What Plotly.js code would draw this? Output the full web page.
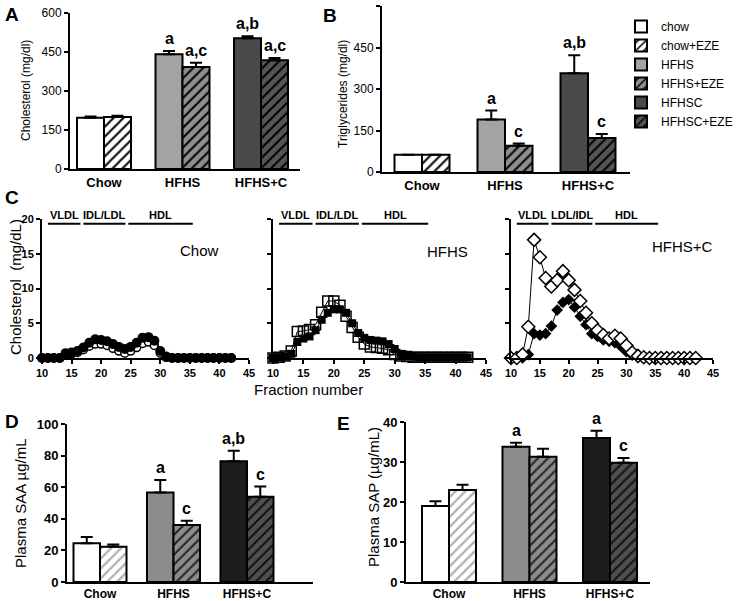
<!DOCTYPE html>
<html>
<head>
<meta charset="utf-8">
<script src="https://cdn.plot.ly/plotly-3.0.1.min.js"></script>
<style>body{margin:0;background:#fff} #myDiv{width:738px;height:601px}</style>
</head>
<body>
<div id="myDiv"></div>
<script>
var W = 738, H = 601;

// ---- bar data ----
var groups = ['Chow', 'HFHS', 'HFHS+C'];
var treatments = ['chow', 'chow+EZE', 'HFHS', 'HFHS+EZE', 'HFHSC', 'HFHSC+EZE'];
var groupOf = [0, 0, 1, 1, 2, 2];

var cholMean = [197, 200, 441, 392, 503, 418];
var cholErr = [5, 5, 13, 17, 8, 9];
var cholSig = ['', '', 'a', 'a,c', 'a,b', 'a,c'];

var tgMean = [62, 62, 190, 95, 357, 123];
var tgErr = [0, 0, 32, 8, 65, 14];
var tgSig = ['', '', 'a', 'c', 'a,b', 'c'];

var saaMean = [24.5, 22.3, 56.6, 36.0, 76.5, 54.0];
var saaErr = [4.0, 1.5, 8.0, 2.8, 6.5, 6.4];
var saaSig = ['', '', 'a', 'c', 'a,b', 'c'];

var sapMean = [19.0, 23.0, 33.8, 31.3, 36.0, 29.8];
var sapErr = [1.2, 1.3, 1.0, 2.0, 1.8, 1.2];
var sapSig = ['', '', 'a', '', 'a', 'c'];

// ---- FPLC profiles (fraction number vs cholesterol mg/dL) ----
var fractions = [10,11,12,13,14,15,16,17,18,19,20,21,22,23,24,25,26,27,28,29,30,31,32,33,34,35,36,37,38,39,40,41,42];
var chowFilled = [0,0,0,0,0.7,0.8,1.0,1.5,2.2,2.7,2.6,2.4,2.0,1.6,1.3,1.6,2.2,2.9,3.0,2.5,1.0,0.2,0,0,0,0,0,0,0,0,0,0,0];
var chowOpen = [0,0,0,0,0.5,0.6,0.8,1.2,1.7,2.0,2.0,1.8,1.4,1.0,0.7,1.0,1.5,2.1,2.3,1.8,0.7,0.1,0,0,0,0,0,0,0,0,0,0,0];
var hfhsFilled = [0,0.1,0.2,0.6,2.3,2.8,3.1,4.0,5.5,6.5,7.0,7.0,6.5,5.0,3.6,2.9,2.6,2.5,2.4,2.0,1.3,0.6,0.3,0.2,0.1,0.1,0.1,0.1,0.1,0.1,0.1,0.1,0.1];
var hfhsOpen = [0,0.1,0.3,1.0,3.8,3.9,4.1,4.8,6.6,8.2,8.2,7.6,6.0,4.4,3.0,2.0,1.6,1.5,1.4,1.2,0.5,0.3,0.2,0.1,0.1,0.1,0.1,0.1,0.1,0.1,0.1,0.1,0.1];
var hfhscOpen = [0,0,0.5,4.5,17.0,14.5,11.5,10.3,11.2,12.5,11.2,9.8,8.2,6.5,5.0,4.0,3.3,2.8,3.2,2.8,1.8,0.8,0.3,0.1,0,0,0,0,0,0,0,0,0];
var hfhscFilled = [0,0,0,0.5,3.5,3.3,3.5,4.6,6.9,8.0,8.4,7.3,6.0,4.8,3.5,3.1,2.6,2.4,2.2,1.7,0.9,0.4,0.1,0,0,0,0,0,0,0,0,0,0];

var bandNames = ['VLDL', 'IDL/LDL', 'HDL'];
var bandNamesC = ['VLDL', 'LDL/IDL', 'HDL'];
var bandStart = [11, 17, 24.6];
var bandEnd = [16.5, 24.1, 35.5];

// ---- styles ----
var FONT = 'Arial, "Liberation Sans", sans-serif';
var styleAB = [
  {bg: '#ffffff'}, {bg: '#ffffff', hatch: '#000000'},
  {bg: '#a3a3a3'}, {bg: '#8f8f8f', hatch: '#000000'},
  {bg: '#4a4a4a'}, {bg: '#555555', hatch: '#000000'}
];
var styleDE = [
  {bg: '#ffffff'}, {bg: '#ffffff', hatch: '#a8a8a8'},
  {bg: '#8c8c8c'}, {bg: '#8c8c8c', hatch: '#222222'},
  {bg: '#1c1c1c'}, {bg: '#4f4f4f', hatch: '#111111'}
];

function dx(a, b) { return [a / W, b / W]; }
function dy(bottom, top) { return [1 - bottom / H, 1 - top / H]; }

var data = [];
var annotations = [];
var shapes = [];
var layout = {
  width: W, height: H,
  margin: {l: 0, r: 0, t: 0, b: 0},
  paper_bgcolor: '#fff', plot_bgcolor: 'rgba(0,0,0,0)',
  barmode: 'overlay',
  font: {family: FONT, color: '#000'},
  showlegend: true,
  legend: {x: 1, y: 1 - 12 / H, xanchor: 'right', yanchor: 'top',
           font: {size: 12, family: FONT}, tracegroupgap: 0, bgcolor: 'rgba(0,0,0,0)'}
};

// bar panel geometry in px: axis left, axis right, first group centre, group spacing, bar width
function barPanel(id, mean, err, sig, styles, g, ydom, yrange, dtick, tickfont, catfont, sigSize, legend) {
  var xa = 'x' + id, ya = 'y' + id;
  var bw = g.bw / g.sp;
  for (var i = 0; i < mean.length; i++) {
    var st = styles[i];
    var marker = {color: st.bg, line: {color: '#000', width: 2}};
    if (st.hatch) {
      marker.pattern = {shape: '/', bgcolor: st.bg, fgcolor: st.hatch, size: 7, solidity: 0.28, fillmode: 'replace'};
    }
    var right = i % 2 === 1;
    data.push({
      type: 'bar', name: treatments[i],
      x: [groupOf[i]], y: [mean[i]],
      offset: right ? 0 : -bw, width: bw,
      xaxis: xa, yaxis: ya, marker: marker,
      error_y: {type: 'data', symmetric: false, array: [err[i]], arrayminus: [0],
                color: '#000', thickness: 2, width: 6},
      showlegend: !!legend, hoverinfo: 'skip'
    });
    if (sig[i]) {
      annotations.push({
        xref: xa, yref: ya, x: groupOf[i] + (right ? bw / 2 : -bw / 2), y: mean[i] + err[i],
        xanchor: 'center', yanchor: 'bottom', yshift: 2, showarrow: false, text: sig[i],
        font: {size: sigSize, family: FONT, weight: 'bold'}
      });
    }
  }
  layout['xaxis' + id] = {
    domain: dx(g.x0, g.x1), anchor: ya, range: [(g.x0 - g.c0) / g.sp, (g.x1 - g.c0) / g.sp],
    tickvals: [0, 1, 2], ticktext: groups, ticks: '', showgrid: false, zeroline: false,
    showline: true, linecolor: '#000', linewidth: 2, tickfont: catfont, fixedrange: true
  };
  layout['yaxis' + id] = {
    domain: ydom, anchor: xa, range: yrange, dtick: dtick, ticks: 'outside', ticklen: 4,
    tickwidth: 2, tickcolor: '#000', showgrid: false, zeroline: false, showline: true,
    linecolor: '#000', linewidth: 2, tickfont: tickfont, fixedrange: true
  };
}

barPanel('', cholMean, cholErr, cholSig, styleAB,
  {x0: 70, x1: 300, c0: 104, sp: 78.5, bw: 27}, dy(169, 13), [0, 600], 150,
  {size: 12, family: FONT}, {size: 13, family: FONT, weight: 'bold'}, 16, true);
barPanel('2', tgMean, tgErr, tgSig, styleAB,
  {x0: 382, x1: 630, c0: 422, sp: 83, bw: 27.5}, dy(172, 6), [0, 600], 150,
  {size: 12, family: FONT}, {size: 13, family: FONT, weight: 'bold'}, 16, false);
barPanel('6', saaMean, saaErr, saaSig, styleDE,
  {x0: 67, x1: 313, c0: 100, sp: 73.5, bw: 26.5}, dy(582, 424), [0, 100], 20,
  {size: 13, family: FONT, weight: 'bold'}, {size: 12, family: FONT, weight: 'bold'}, 16, false);
barPanel('7', sapMean, sapErr, sapSig, styleDE,
  {x0: 406, x1: 650, c0: 449, sp: 80.5, bw: 27}, dy(582, 422), [0, 40], 10,
  {size: 13, family: FONT, weight: 'bold'}, {size: 12, family: FONT, weight: 'bold'}, 16, false);

// ---- FPLC panels ----
function profilePanel(id, px0, px1, series, showLabels, title, titlePos, bands) {
  var xa = 'x' + id, ya = 'y' + id;
  series.forEach(function (s) {
    data.push({
      type: 'scatter', mode: 'lines+markers', x: fractions, y: s.y,
      xaxis: xa, yaxis: ya, line: {color: '#000', width: 1},
      marker: s.marker, cliponaxis: false, showlegend: false, hoverinfo: 'skip'
    });
  });
  layout['xaxis' + id] = {
    domain: dx(px0, px1), anchor: ya, range: [10, 45], tick0: 10, dtick: 5,
    ticks: 'outside', ticklen: 4, tickwidth: 2, tickcolor: '#000', showgrid: false, zeroline: false,
    showline: true, linecolor: '#000', linewidth: 2,
    tickfont: {size: 11, family: FONT, weight: 'bold'}, fixedrange: true
  };
  layout['yaxis' + id] = {
    domain: dy(358, 219), anchor: xa, range: [0, 20], dtick: 5,
    ticks: 'outside', ticklen: 4, tickwidth: 2, tickcolor: '#000', showgrid: false, zeroline: false,
    showline: true, linecolor: '#000', linewidth: 2, showticklabels: showLabels,
    tickfont: {size: 11, family: FONT, weight: 'bold'}, fixedrange: true
  };
  for (var b = 0; b < bands.length; b++) {
    shapes.push({type: 'line', xref: xa, yref: ya, x0: bandStart[b], x1: bandEnd[b], y0: 19.3, y1: 19.3,
                 line: {color: '#000', width: 2}});
    annotations.push({xref: xa, yref: ya, x: (bandStart[b] + bandEnd[b]) / 2, y: 19.3,
                      xanchor: 'center', yanchor: 'bottom',
                      yshift: 1, showarrow: false, text: bands[b],
                      font: {size: 11, family: FONT, weight: 'bold'}});
  }
  annotations.push({xref: 'paper', yref: 'paper', x: titlePos[0] / W, y: 1 - titlePos[1] / H,
                    xanchor: 'center', yanchor: 'middle',
                    showarrow: false, text: title, font: {size: 15, family: FONT}});
}

profilePanel('3', 42, 249, [
  {y: chowOpen, marker: {symbol: 'circle', size: 8, color: '#fff', line: {color: '#000', width: 1.5}}},
  {y: chowFilled, marker: {symbol: 'circle', size: 10, color: '#000'}}
], true, 'Chow', [200, 250], bandNames);
profilePanel('4', 273, 486, [
  {y: hfhsFilled, marker: {symbol: 'square', size: 8, color: '#000'}},
  {y: hfhsOpen, marker: {symbol: 'square-open', size: 10, color: '#000', line: {width: 1.5}}}
], false, 'HFHS', [447, 251], bandNames);
profilePanel('5', 511, 713, [
  {y: hfhscFilled, marker: {symbol: 'diamond', size: 9, color: '#000'}},
  {y: hfhscOpen, marker: {symbol: 'diamond', size: 10, color: '#fff', line: {color: '#000', width: 1.5}}}
], false, 'HFHS+C', [682, 246], bandNamesC);

// ---- axis titles and panel letters ----
function ptext(x, y, text, size, angle, weight) {
  annotations.push({xref: 'paper', yref: 'paper', x: x / W, y: 1 - y / H, showarrow: false,
                    xanchor: 'center', yanchor: 'middle',
                    text: text, textangle: angle || 0,
                    font: {size: size, family: FONT, weight: weight || 'normal'}});
}
ptext(26, 90, 'Cholesterol (mg/dl)', 12, -90);
ptext(343, 94, 'Triglycerides (mg/dl)', 12, -90);
ptext(15, 287, 'Cholesterol  (mg/dL)', 15, -90);
ptext(308, 389, 'Fraction number', 15);
ptext(20, 503, 'Plasma SAA µg/mL', 15, -90);
ptext(373, 497, 'Plasma SAP (µg/mL)', 15, -90);
ptext(12, 15, 'A', 19, 0, 'bold');
ptext(330, 16, 'B', 19, 0, 'bold');
ptext(12, 198, 'C', 19, 0, 'bold');
ptext(12, 421, 'D', 19, 0, 'bold');
ptext(343, 423, 'E', 19, 0, 'bold');

layout.annotations = annotations;
layout.shapes = shapes;

Plotly.newPlot('myDiv', data, layout, {staticPlot: true, displayModeBar: false});
</script>
</body>
</html>
